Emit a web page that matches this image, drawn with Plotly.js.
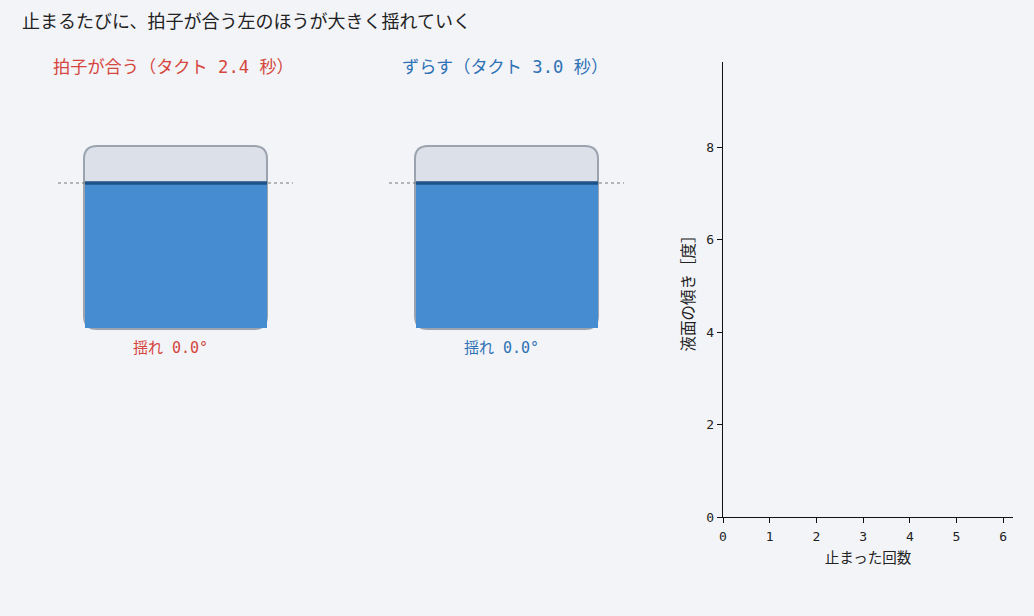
<!DOCTYPE html>
<html>
<head>
<meta charset="utf-8">
<script src="https://cdn.plot.ly/plotly-3.0.1.min.js"></script>
<style>
  html, body { margin: 0; padding: 0; background: #f3f4f8; }
  #chart { width: 1034px; height: 616px; }
</style>
</head>
<body>
<div id="chart"></div>
<script>
// data
var cupNames = ['拍子が合う（タクト 2.4 秒）', 'ずらす（タクト 3.0 秒）'];
var cupColors = ['#d5473c', '#2e72b5'];
var tiltDeg = [0.0, 0.0];          // current liquid tilt of each cup
var stopCount = [];                // 止まった回数 (nothing recorded yet)
var tiltLeft = [];
var tiltRight = [];

var fontFam = 'DejaVu Sans Mono, Noto Sans CJK JP, monospace';

// cup drawing in pixel space (hidden axes x2/y2)
var cupCenters = [175.5, 506.5];
var cupW = 183, cupTop = 146, cupBot = 329, cupR = 13, level = 183;

var traces = [];
var shapes = [];
var annotations = [];

cupCenters.forEach(function(cx, i) {
  var l = cx - cupW / 2, r = cx + cupW / 2;
  // cup body
  shapes.push({
    type: 'path', xref: 'x2', yref: 'y2', layer: 'below',
    path: 'M ' + l + ',' + (cupTop + cupR) +
          ' Q ' + l + ',' + cupTop + ' ' + (l + cupR) + ',' + cupTop +
          ' L ' + (r - cupR) + ',' + cupTop +
          ' Q ' + r + ',' + cupTop + ' ' + r + ',' + (cupTop + cupR) +
          ' L ' + r + ',' + (cupBot - cupR) +
          ' Q ' + r + ',' + cupBot + ' ' + (r - cupR) + ',' + cupBot +
          ' L ' + (l + cupR) + ',' + cupBot +
          ' Q ' + l + ',' + cupBot + ' ' + l + ',' + (cupBot - cupR) + ' Z',
    fillcolor: '#dce0e8',
    line: { color: '#9aa3ae', width: 2 }
  });
  // rest level
  shapes.push({
    type: 'line', xref: 'x2', yref: 'y2', layer: 'below',
    x0: cx - 117.5, x1: cx + 117.5, y0: level, y1: level,
    line: { color: '#777', width: 1, dash: 'dot' }
  });
  // liquid from the tilt angle
  var t = Math.tan(tiltDeg[i] * Math.PI / 180) * (cupW / 2);
  var ll = l + 1, rr = r;
  traces.push({
    x: [ll, rr, rr, ll, ll],
    y: [level + t, level - t, cupBot - 1, cupBot - 1, level + t],
    xaxis: 'x2', yaxis: 'y2', mode: 'lines', fill: 'toself',
    fillcolor: '#468cd0', line: { width: 0 }, hoverinfo: 'skip', showlegend: false
  });
  traces.push({
    x: [ll, rr], y: [level + t, level - t],
    xaxis: 'x2', yaxis: 'y2', mode: 'lines',
    line: { color: '#1f5289', width: 3.5 }, hoverinfo: 'skip', showlegend: false
  });
  annotations.push({
    xref: 'x2', yref: 'y2', x: cx - 2, y: 67, text: cupNames[i], showarrow: false,
    font: { family: fontFam, size: 17.2, color: cupColors[i] }
  });
  annotations.push({
    xref: 'x2', yref: 'y2', x: cx - 5.5, y: 348, text: '揺れ ' + tiltDeg[i].toFixed(1) + '°',
    showarrow: false, font: { family: fontFam, size: 15, color: cupColors[i] }
  });
});

// history chart
traces.push({ x: stopCount, y: tiltLeft, mode: 'lines+markers', line: { color: cupColors[0] }, showlegend: false });
traces.push({ x: stopCount, y: tiltRight, mode: 'lines+markers', line: { color: cupColors[1] }, showlegend: false });

var layout = {
  width: 1034, height: 616,
  margin: { l: 0, r: 0, t: 0, b: 0 },
  paper_bgcolor: '#f3f4f8', plot_bgcolor: 'rgba(0,0,0,0)',
  font: { family: fontFam, size: 12, color: '#222' },
  title: {
    text: '止まるたびに、拍子が合う左のほうが大きく揺れていく',
    x: 22 / 1034, xanchor: 'left', xref: 'paper',
    y: 1 - 22 / 616, yanchor: 'middle', yref: 'paper',
    font: { family: fontFam, size: 18, color: '#222' }
  },
  xaxis: {
    domain: [723 / 1034, 1013 / 1034], anchor: 'y', range: [0, 6.21],
    tickvals: [0, 1, 2, 3, 4, 5, 6], showgrid: false, zeroline: false,
    showline: true, linecolor: '#111', linewidth: 1.3,
    ticks: 'outside', ticklen: 5, tickcolor: '#111', ticklabelstandoff: 2,
    tickfont: { size: 13, color: '#222' },
    title: { text: '止まった回数', font: { size: 14.5, color: '#222' }, standoff: 10 }
  },
  yaxis: {
    domain: [1 - 517 / 616, 1 - 62 / 616], anchor: 'x', range: [0, 9.84],
    tickvals: [0, 2, 4, 6, 8], showgrid: false, zeroline: false,
    showline: true, linecolor: '#111', linewidth: 1.3,
    ticks: 'outside', ticklen: 5, tickcolor: '#111',
    tickfont: { size: 13, color: '#222' },
    title: { text: '液面の傾き［度］', font: { size: 15.5, color: '#222' }, standoff: 7 }
  },
  xaxis2: { domain: [0, 1], anchor: 'y2', range: [0, 1034], visible: false, fixedrange: true },
  yaxis2: { domain: [0, 1], anchor: 'x2', range: [616, 0], visible: false, fixedrange: true },
  shapes: shapes,
  annotations: annotations
};

Plotly.newPlot('chart', traces, layout, { displayModeBar: false, staticPlot: true });
</script>
</body>
</html>
